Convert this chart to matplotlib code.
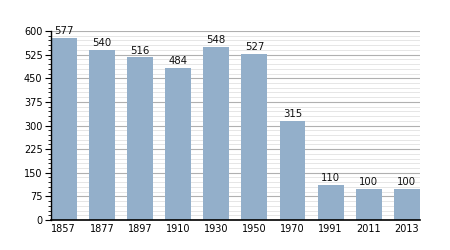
import matplotlib
matplotlib.use("Agg")
import matplotlib.pyplot as plt
from matplotlib.ticker import MultipleLocator

years = ["1857", "1877", "1897", "1910", "1930", "1950", "1970", "1991", "2011", "2013"]
population = [577, 540, 516, 484, 548, 527, 315, 110, 100, 100]
y_ticks = [0, 75, 150, 225, 300, 375, 450, 525, 600]

fig = plt.figure(figsize=(4.5, 2.5), dpi=100)
ax = fig.add_axes([0.113, 0.12, 0.82, 0.756])
w = 0.68
x = list(range(len(years)))
ax.bar(x, population, width=w, color="#93afca", zorder=3)
for xi, v in zip(x, population):
    ax.text(xi, v + 6, str(v), ha="center", va="bottom", fontsize=7.3, color="#111111", zorder=4)

ax.set_xlim(-w / 2, len(years) - 1 + w / 2)
ax.set_ylim(0, 600)
ax.set_yticks(y_ticks)
ax.yaxis.set_minor_locator(MultipleLocator(15))
ax.set_xticks(x)
ax.set_xticklabels(years)
ax.grid(axis="y", which="major", color="#b0b0b0", linewidth=0.8, zorder=1)
ax.grid(axis="y", which="minor", color="#e2e2e2", linewidth=0.6, zorder=0)
for s in ["top", "right"]:
    ax.spines[s].set_visible(False)
ax.spines["left"].set_linewidth(1)
ax.spines["bottom"].set_linewidth(1.2)
ax.spines["left"].set_zorder(5)
ax.spines["bottom"].set_zorder(5)
ax.tick_params(axis="y", which="major", length=4, width=0.8, labelsize=7, pad=2)
ax.tick_params(axis="y", which="minor", length=2, width=0.6)
ax.tick_params(axis="x", length=0, labelsize=7, pad=3)
fig.savefig("out.png", dpi=100)
